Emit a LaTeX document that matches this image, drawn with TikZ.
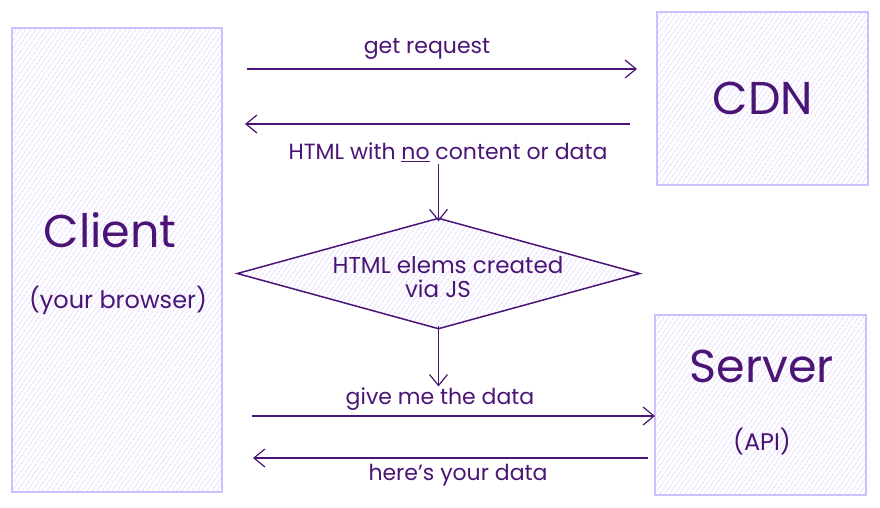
\documentclass[tikz,border=0pt]{standalone}
\usepackage{fontspec}
\setmainfont{Poppins}
\usetikzlibrary{arrows.meta,shapes.geometric,patterns.meta,calc}
\definecolor{ink}{HTML}{4A1576}
\definecolor{lav}{HTML}{D0BFFF}
\definecolor{hatch}{HTML}{C8B6FA}
\tikzset{
  hatchbox/.style={draw=lav, line width=1.6pt,
    pattern={Lines[angle=55,distance=4pt,line width=0.6pt]}, pattern color=hatch},
  bigtxt/.style={text=ink, font=\fontsize{46}{50}\selectfont},
  midtxt/.style={text=ink, font=\fontsize{24}{26}\selectfont},
  lbl/.style={text=ink, font=\fontsize{22}{24}\selectfont, inner sep=1pt},
  arr/.style={draw=ink, line width=1.5pt, -{Straight Barb[length=11pt,width=18pt,line width=1.2pt]}},
  decision/.style={diamond, draw=ink, line width=1.5pt,
    pattern={Lines[angle=55,distance=4pt,line width=0.6pt]}, pattern color=hatch,
    minimum width=403pt, minimum height=111pt, inner sep=0pt, aspect=3.6},
}
\begin{document}
\begin{tikzpicture}[x=1pt,y=-1pt]
\useasboundingbox (0,0) rectangle (880,507);
% boxes
\node[hatchbox, minimum width=210pt, minimum height=464pt, inner sep=0pt] (client) at (117,260) {};
\node[hatchbox, minimum width=211pt, minimum height=173pt, inner sep=0pt] (cdn) at (762.5,98.5) {};
\node[hatchbox, minimum width=211pt, minimum height=180pt, inner sep=0pt] (server) at (760.5,405) {};
% box texts
\node[bigtxt] (clienttxt) at (110,230) {Client};
\node[midtxt] (browsertxt) at (118,300) {(your browser)};
\node[bigtxt] (cdntxt) at (763,98) {CDN};
\node[bigtxt] (servertxt) at (762,366) {Server};
\node[midtxt] (apitxt) at (762,442) {(API)};
% diamond
\node[decision] (js) at (438.5,273.5) {};
\node[text=ink, font=\fontsize{23}{23}\selectfont, inner sep=0pt] (jstxt1) at (448,265) {HTML elems created};
\node[text=ink, font=\fontsize{23}{23}\selectfont, inner sep=0pt] (jstxt2) at (438,289) {via JS};
% arrow end points
\coordinate (a1s) at (247,69);
\coordinate (a1e) at (637,69);
\coordinate (a2s) at (630,124);
\coordinate (a2e) at (245,124);
\coordinate (a3s) at (252,416);
\coordinate (a3e) at (655,416);
\coordinate (a4s) at (648,458);
\coordinate (a4e) at (253,458);
% labels
\node[lbl] (getreq) at (427,49) {get request};
\node[lbl] (htmlno) at (448,152) {HTML with \underline{no} content or data};
\node[lbl] (give) at (440,399) {give me the data};
\node[lbl] (here) at (458,475) {here's your data};
% arrows
\draw[arr] (a1s) -- (a1e);
\draw[arr] (a2s) -- (a2e);
\draw[arr] (a3s) -- (a3e);
\draw[arr] (a4s) -- (a4e);
\draw[arr] (htmlno.south -| js.north) ++(0,1) -- ([yshift=-4pt]js.north);
\draw[arr] ([yshift=4pt]js.south) -- (give.north -| js.south);
\end{tikzpicture}
\end{document}
